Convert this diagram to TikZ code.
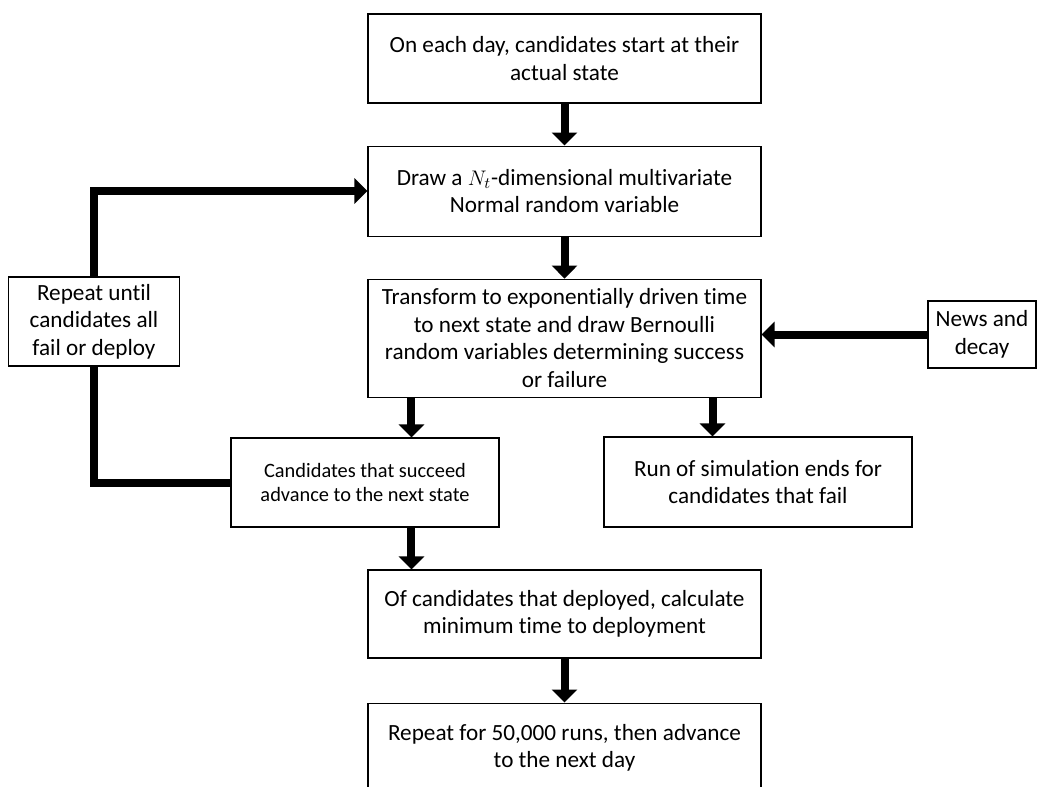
\documentclass[tikz,border=0pt]{standalone}
\usepackage{fontspec}
\setmainfont{Carlito}[Ligatures=NoCommon]
\usetikzlibrary{arrows.meta,positioning}

\begin{document}
\begin{tikzpicture}[
    block/.style={rectangle, draw, line width=0.6pt, align=center, inner sep=0pt, minimum width=7.86cm, minimum height=1.78cm, font=\fontsize{13.2}{15.6}\selectfont},
    arrow/.style={-{Triangle[width=0.5cm,length=0.26cm]}, line width=0.16cm},
    link/.style={line width=0.16cm}
]
\useasboundingbox (0,0) rectangle (20.76,-15.74);

\node[block] (start) at (11.29,-1.17) {On each day, candidates start at their\\actual state};
\node[block, below=0.84cm of start, minimum height=1.80cm] (normal) {Draw a $N_t$-dimensional multivariate\\Normal random variable};
\node[block, below=0.84cm of normal, minimum height=2.36cm] (transform) {Transform to exponentially driven time\\to next state and draw Bernoulli\\random variables determining success\\or failure};
\node[block, minimum width=5.36cm, font=\fontsize{11.6}{13.2}\selectfont] (succeed) at (7.30,-9.65) {Candidates that succeed\\advance to the next state};
\node[block, minimum width=6.16cm, minimum height=1.80cm] (fail) at (15.16,-9.64) {Run of simulation ends for\\candidates that fail};
\node[block, minimum height=1.76cm] (deploy) at (11.29,-12.28) {Of candidates that deployed, calculate\\minimum time to deployment};
\node[block, below=0.88cm of deploy] (runs) {Repeat for 50,000 runs, then advance\\to the next day};
\node[block, minimum width=2.16cm, minimum height=1.34cm] (news) at (19.64,-6.69) {News and\\decay};
\node[block, minimum width=3.42cm] (repeat) at (1.88,-6.43) {Repeat until\\candidates all\\fail or deploy};

% main column
\draw[arrow] (start) -- (normal);
\draw[arrow] (normal) -- (transform);
\draw[arrow] ([xshift=0.88cm]transform.south west) -- ([xshift=0.88cm]transform.south west |- succeed.north);
\draw[arrow] ([xshift=-0.98cm]transform.south east) -- ([xshift=-0.98cm]transform.south east |- fail.north);
\draw[arrow] ([xshift=0.88cm]deploy.north west |- succeed.south) -- ([xshift=0.88cm]deploy.north west);
\draw[arrow] (deploy) -- (runs);
\draw[arrow] (news) -- (news -| transform.east);

% loop back
\draw[link] (succeed.west) -| (repeat.south);
\draw[arrow] (repeat.north) |- (normal.west);
\end{tikzpicture}
\end{document}
